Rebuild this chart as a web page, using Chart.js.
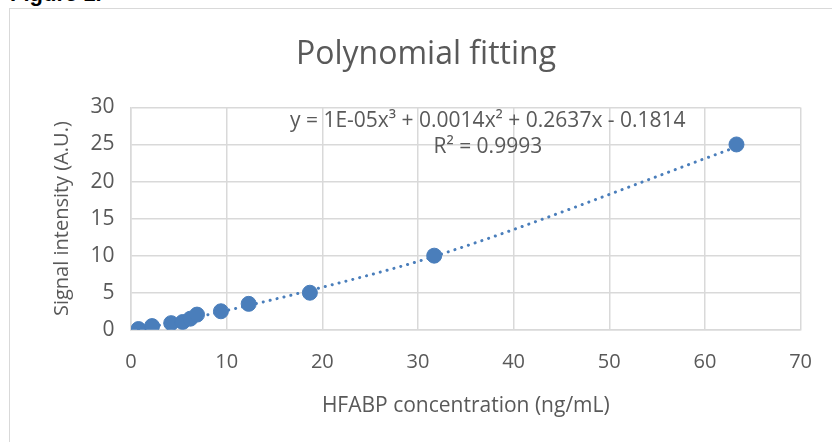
<!DOCTYPE html>
<html>
<head>
<meta charset="utf-8">
<script src="https://cdn.jsdelivr.net/npm/chart.js@4"></script>
<style>
html,body{margin:0;padding:0;background:#fff;overflow:hidden;}
#wrap{position:relative;width:832px;height:442px;}
#fig{position:absolute;left:10px;top:-19px;font:bold 22px "Liberation Sans",Arial,sans-serif;color:#000;}
#box{position:absolute;left:9px;top:8px;width:900px;height:500px;border:1.5px solid #d9d9d9;box-sizing:border-box;}
canvas{position:absolute;left:0;top:0;}
</style>
</head>
<body>
<div id="wrap">
<div id="fig">Figure 1.</div>
<div id="box"></div>
<canvas id="c" width="832" height="442"></canvas>
</div>
<script>
// measured points (HFABP ng/mL vs signal)
const concX=[0.78,2.2,4.2,5.4,6.2,6.9,9.4,12.3,18.7,31.7,63.3];
const signalY=[0.1,0.5,0.9,1.05,1.5,2.05,2.5,3.5,5,10,25];
// trendline coefficients as printed on the chart (c0,c1,c2,c3)
const trendCoef=[-0.1814,0.2637,0.0014,0.00001];
const xTicks=[0,10,20,30,40,50,60,70];
const yTicks=[0,5,10,15,20,25,30];

const blue="#4a7ebb";
const grey="#595959";
const font="'Open Sans', sans-serif";

function fitAt(x){
let y=0;
for(let i=trendCoef.length-1;i>=0;i--) y=y*x+trendCoef[i];
return y;
}
const trendPts=concX.map(x=>({x:x,y:fitAt(x)}));
const pts=concX.map((x,i)=>({x:x,y:signalY[i]}));

const eqLabel={
id:"eqLabel",
afterDatasetsDraw(chart){
const {ctx,scales}=chart;
const cx=scales.x.getPixelForValue(37.3);
ctx.save();
ctx.fillStyle=grey;
ctx.font="21px "+font;
ctx.textAlign="center";
ctx.textBaseline="middle";
ctx.fillText("y = 1E-05x³ + 0.0014x² + 0.2637x - 0.1814",cx,scales.y.getPixelForValue(28.2));
ctx.fillText("R² = 0.9993",cx,scales.y.getPixelForValue(24.6));
ctx.restore();
}
};

new Chart(document.getElementById("c"),{
type:"scatter",
data:{
datasets:[
{
label:"Signal",
data:pts,
backgroundColor:blue,
borderColor:blue,
pointRadius:7.5,
pointHoverRadius:7.5,
order:1
},
{
label:"Poly. (Signal)",
type:"line",
data:trendPts,
showLine:true,
borderColor:blue,
borderWidth:3,
borderDash:[0.1,7],
borderCapStyle:"round",
pointRadius:0,
tension:0.4,
cubicInterpolationMode:"monotone",
fill:false,
order:2
}
]
},
options:{
responsive:false,
animation:false,
layout:{padding:{left:50,right:30,top:20,bottom:23}},
plugins:{
legend:{display:false},
tooltip:{enabled:false},
title:{
display:true,
text:"Polynomial fitting",
color:grey,
font:{family:font,size:32,weight:"normal"},
padding:{top:16,bottom:33}
}
},
scales:{
x:{
type:"linear",
min:0,max:70,
afterBuildTicks(axis){axis.ticks=xTicks.map(v=>({value:v}));},
grid:{color:"#d9d9d9",lineWidth:1.5,drawTicks:false},
border:{color:"#d9d9d9",width:1.5},
ticks:{color:grey,font:{family:font,size:20},padding:20},
title:{display:true,text:"HFABP concentration (ng/mL)",color:grey,font:{family:font,size:21},padding:{top:0,bottom:0}}
},
y:{
type:"linear",
min:0,max:30,
afterBuildTicks(axis){axis.ticks=yTicks.map(v=>({value:v}));},
grid:{color:"#d9d9d9",lineWidth:1.5,drawTicks:false},
border:{color:"#d9d9d9",width:1.5},
ticks:{color:grey,font:{family:font,size:21},padding:16.5},
title:{display:true,text:"Signal intensity (A.U.)",color:grey,font:{family:font,size:20},padding:{top:0,bottom:0}}
}
}
},
plugins:[eqLabel]
});
</script>
</body>
</html>
